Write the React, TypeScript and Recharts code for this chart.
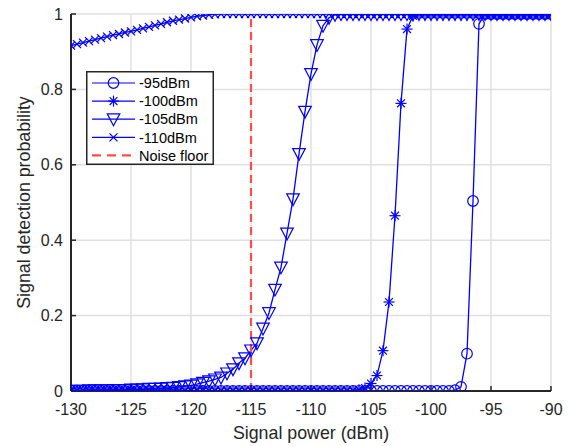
import React from 'react';
import { LineChart, Line, XAxis, YAxis, CartesianGrid, ReferenceLine, Legend } from 'recharts';

const xValues = [
  -130, -129.5, -129, -128.5, -128, -127.5, -127, -126.5, -126, -125.5,
  -125, -124.5, -124, -123.5, -123, -122.5, -122, -121.5, -121, -120.5,
  -120, -119.5, -119, -118.5, -118, -117.5, -117, -116.5, -116, -115.5,
  -115, -114.5, -114, -113.5, -113, -112.5, -112, -111.5, -111, -110.5,
  -110, -109.5, -109, -108.5, -108, -107.5, -107, -106.5, -106, -105.5,
  -105, -104.5, -104, -103.5, -103, -102.5, -102, -101.5, -101, -100.5,
  -100, -99.5, -99, -98.5, -98, -97.5, -97, -96.5, -96, -95.5,
  -95, -94.5, -94, -93.5, -93, -92.5, -92, -91.5, -91, -90.5,
  -90,
];

const p95 = [
  0, 0, 0, 0, 0, 0, 0, 0, 0, 0,
  0, 0, 0, 0, 0, 0, 0, 0, 0, 0,
  0, 0, 0, 0, 0, 0, 0, 0, 0, 0,
  0, 0, 0, 0, 0, 0, 0, 0, 0, 0,
  0, 0, 0, 0, 0, 0, 0, 0, 0, 0,
  0, 0, 0, 0, 0, 0, 0, 0, 0, 0,
  0, 0, 0, 0, 0.002, 0.011, 0.099, 0.504, 0.974, 1,
  1, 1, 1, 1, 1, 1, 1, 1, 1, 1,
  1,
];

const p100 = [
  0, 0, 0, 0, 0, 0, 0, 0, 0, 0,
  0, 0, 0, 0, 0, 0, 0, 0, 0, 0,
  0, 0, 0, 0, 0, 0, 0, 0, 0, 0,
  0, 0, 0, 0, 0, 0, 0, 0, 0, 0,
  0, 0, 0, 0, 0, 0, 0, 0, 0.003, 0.008,
  0.02, 0.041, 0.107, 0.236, 0.465, 0.763, 0.96, 0.995, 1, 1,
  1, 1, 1, 1, 1, 1, 1, 1, 1, 1,
  1, 1, 1, 1, 1, 1, 1, 1, 1, 1,
  1,
];

const p105 = [
  0.001, 0.001, 0.001, 0.002, 0.002, 0.002, 0.002, 0.003, 0.003, 0.003,
  0.004, 0.004, 0.005, 0.006, 0.006, 0.007, 0.008, 0.009, 0.011, 0.013,
  0.015, 0.018, 0.022, 0.026, 0.031, 0.036, 0.047, 0.058, 0.074, 0.087,
  0.108, 0.127, 0.166, 0.207, 0.269, 0.328, 0.418, 0.509, 0.629, 0.741,
  0.841, 0.918, 0.969, 0.99, 0.998, 1, 1, 1, 1, 1,
  1, 1, 1, 1, 1, 1, 1, 1, 1, 1,
  1, 1, 1, 1, 1, 1, 1, 1, 1, 1,
  1, 1, 1, 1, 1, 1, 1, 1, 1, 1,
  1,
];

const p110 = [
  0.916, 0.92, 0.924, 0.928, 0.932, 0.936, 0.94, 0.944, 0.947, 0.951,
  0.954, 0.958, 0.962, 0.966, 0.97, 0.974, 0.978, 0.982, 0.985, 0.988,
  0.991, 0.994, 0.996, 0.998, 0.999, 1, 1, 1, 1, 1,
  1, 1, 1, 1, 1, 1, 1, 1, 1, 1,
  1, 1, 1, 1, 1, 1, 1, 1, 1, 1,
  1, 1, 1, 1, 1, 1, 1, 1, 1, 1,
  1, 1, 1, 1, 1, 1, 1, 1, 1, 1,
  1, 1, 1, 1, 1, 1, 1, 1, 1, 1,
  1,
];

const seriesNames = ['-95dBm', '-100dBm', '-105dBm', '-110dBm'];
const seriesKeys = ['p95', 'p100', 'p105', 'p110'];
const seriesMarkers = ['circle', 'star', 'triangle', 'cross'];
const noiseFloorX = -115;
const noiseFloorName = 'Noise floor';

const xTicks = [-130, -125, -120, -115, -110, -105, -100, -95, -90];
const yTicks = [0, 0.2, 0.4, 0.6, 0.8, 1];

const xLabel = 'Signal power (dBm)';
const yLabel = 'Signal detection probability';

const rows = xValues.map((x, i) => ({ x, p95: p95[i], p100: p100[i], p105: p105[i], p110: p110[i] }));

const BLUE = '#0000ff';
const RED = '#ff4d4d';
const AXIS = '#262626';
const FONT = '"Liberation Sans", Arial, Helvetica, sans-serif';

function Marker({ type, cx, cy }: { type: string; cx: number; cy: number }) {
  const sw = 1.2;
  if (type === 'circle') {
    return <circle cx={cx} cy={cy} r={5.3} fill="none" stroke={BLUE} strokeWidth={sw} />;
  }
  if (type === 'star') {
    const r = 5.5;
    const d = 3.9;
    return (
      <g stroke={BLUE} strokeWidth={sw} fill="none">
        <line x1={cx} y1={cy - r} x2={cx} y2={cy + r} />
        <line x1={cx - r} y1={cy} x2={cx + r} y2={cy} />
        <line x1={cx - d} y1={cy - d} x2={cx + d} y2={cy + d} />
        <line x1={cx - d} y1={cy + d} x2={cx + d} y2={cy - d} />
      </g>
    );
  }
  if (type === 'triangle') {
    const pts = `${cx - 6.3},${cy - 5.3} ${cx + 6.3},${cy - 5.3} ${cx},${cy + 6.5}`;
    return <polygon points={pts} fill="none" stroke={BLUE} strokeWidth={sw} />;
  }
  const r = 4;
  return (
    <g stroke={BLUE} strokeWidth={sw} fill="none">
      <line x1={cx - r} y1={cy - r} x2={cx + r} y2={cy + r} />
      <line x1={cx - r} y1={cy + r} x2={cx + r} y2={cy - r} />
    </g>
  );
}

function makeDot(type: string) {
  return (props: any) => {
    const { cx, cy, index } = props;
    if (cx == null || cy == null) return <g key={`e-${type}-${index}`} />;
    return (
      <g key={`d-${type}-${index}`}>
        <Marker type={type} cx={cx} cy={cy} />
      </g>
    );
  };
}

function LegendBox() {
  const rowY = (i: number) => 12 + i * 18.1;
  return (
    <svg width={128} height={94} style={{ display: 'block' }}>
      <rect x={0.75} y={0.75} width={126.5} height={92.5} fill="#ffffff" stroke={AXIS} strokeWidth={1.5} />
      {seriesNames.map((name, i) => (
        <g key={name}>
          <line x1={6} y1={rowY(i)} x2={49} y2={rowY(i)} stroke={BLUE} strokeWidth={1.2} />
          <Marker type={seriesMarkers[i]} cx={27.5} cy={rowY(i)} />
          <text x={53} y={rowY(i) + 5.2} fontSize={14.5} fontFamily={FONT} fill="#000">{name}</text>
        </g>
      ))}
      <line x1={6} y1={rowY(4)} x2={49} y2={rowY(4)} stroke={RED} strokeWidth={2.2} strokeDasharray="9 6" />
      <text x={53} y={rowY(4) + 5.2} fontSize={14.5} fontFamily={FONT} fill="#000">{noiseFloorName}</text>
    </svg>
  );
}

function YLabel(props: any) {
  const vb = props.viewBox || {};
  const cy = (vb.y ?? 14) + (vb.height ?? 377) / 2;
  const x = 29.5;
  return (
    <text x={x} y={cy} transform={`rotate(-90, ${x}, ${cy})`} textAnchor="middle" fontSize={17.8} fontFamily={FONT} fill={AXIS}>
      {yLabel}
    </text>
  );
}

function XLabel(props: any) {
  const vb = props.viewBox || {};
  const cx = (vb.x ?? 71) + (vb.width ?? 480) / 2;
  return (
    <text x={cx} y={439} textAnchor="middle" fontSize={17.8} fontFamily={FONT} fill={AXIS}>
      {xLabel}
    </text>
  );
}

export default function App() {
  const tickStyle = { fill: AXIS, fontSize: 16, fontFamily: FONT };
  const axisLine = { stroke: AXIS, strokeWidth: 2 };
  const tickLine = { stroke: AXIS, strokeWidth: 1.5 };
  return (
    <div style={{ position: 'absolute', left: 0, top: 0, width: 571, height: 446, background: '#ffffff' }}>
      <LineChart width={571} height={446} data={rows} margin={{ top: 14, right: 20, bottom: 0, left: 0 }}>
        <CartesianGrid stroke="#e0e0e0" strokeWidth={1.5} />
        <XAxis
          dataKey="x"
          type="number"
          domain={[-130, -90]}
          ticks={xTicks}
          interval={0}
          height={55}
          tickSize={-5}
          tickMargin={18}
          axisLine={axisLine}
          tickLine={tickLine}
          tick={tickStyle}
          allowDataOverflow
          label={<XLabel />}
        />
        <XAxis
          xAxisId="top"
          orientation="top"
          type="number"
          domain={[-130, -90]}
          ticks={xTicks}
          interval={0}
          height={0}
          tickSize={-5}
          axisLine={axisLine}
          tickLine={tickLine}
          tick={false}
          allowDataOverflow
        />
        <YAxis
          type="number"
          domain={[0, 1]}
          ticks={yTicks}
          interval={0}
          width={71}
          tickSize={-5}
          tickMargin={13}
          axisLine={axisLine}
          tickLine={tickLine}
          tick={tickStyle}
          allowDataOverflow
          label={<YLabel />}
        />
        <YAxis
          yAxisId="right"
          orientation="right"
          type="number"
          domain={[0, 1]}
          ticks={yTicks}
          interval={0}
          width={0}
          tickSize={-5}
          axisLine={axisLine}
          tickLine={tickLine}
          tick={false}
          allowDataOverflow
        />
        {seriesKeys.map((k, i) => (
          <Line
            key={k}
            dataKey={k}
            name={seriesNames[i]}
            type="linear"
            stroke={BLUE}
            strokeWidth={1.3}
            dot={makeDot(seriesMarkers[i])}
            activeDot={false}
            isAnimationActive={false}
          />
        ))}
        <ReferenceLine x={noiseFloorX} stroke={RED} strokeWidth={2.2} strokeDasharray="8 5" />
        <Legend
          layout="vertical"
          align="center"
          verticalAlign="middle"
          content={() => <LegendBox />}
          wrapperStyle={{ left: 86, top: 71, width: 128, height: 94 }}
        />
      </LineChart>
    </div>
  );
}
